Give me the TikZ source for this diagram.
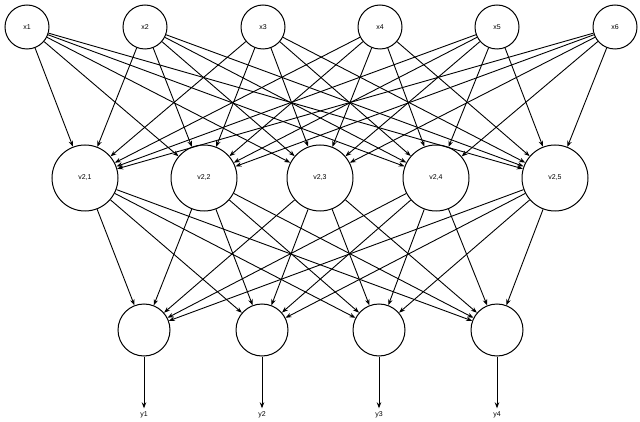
\documentclass[tikz,border=0pt]{standalone}
\usepackage{fontspec}
\setmainfont{Liberation Sans}
\usetikzlibrary{arrows.meta}
\begin{document}
\begin{tikzpicture}[x=1pt,y=-1pt,
  neuron/.style={circle,draw,line width=1pt,inner sep=0pt,font=\fontsize{7}{8}\selectfont},
  conn/.style={line width=0.9pt,-{Stealth[length=6pt,width=4.5pt]}}]
\useasboundingbox (0,0) rectangle (640,422);
\foreach \i/\x in {1/27,2/145,3/263,4/380,5/497,6/615}
  \node[neuron,minimum size=44pt] (x\i) at (\x,27) {x\i};
\foreach \i/\x in {1/85,2/204,3/320,4/436,5/555}
  \node[neuron,minimum size=66pt] (v\i) at (\x,178) {v2,\i};
\foreach \i/\x in {1/144,2/262,3/379,4/497}{
  \node[neuron,minimum size=52pt] (h\i) at (\x,330) {};
  \node[font=\fontsize{7}{8}\selectfont] (y\i) at (\x,415) {y\i};
  \draw[conn] (h\i) -- (y\i.north);
}
\foreach \i in {1,...,6}\foreach \j in {1,...,5}\draw[conn] (x\i) -- (v\j);
\foreach \j in {1,...,5}\foreach \k in {1,...,4}\draw[conn] (v\j) -- (h\k);
\end{tikzpicture}
\end{document}
